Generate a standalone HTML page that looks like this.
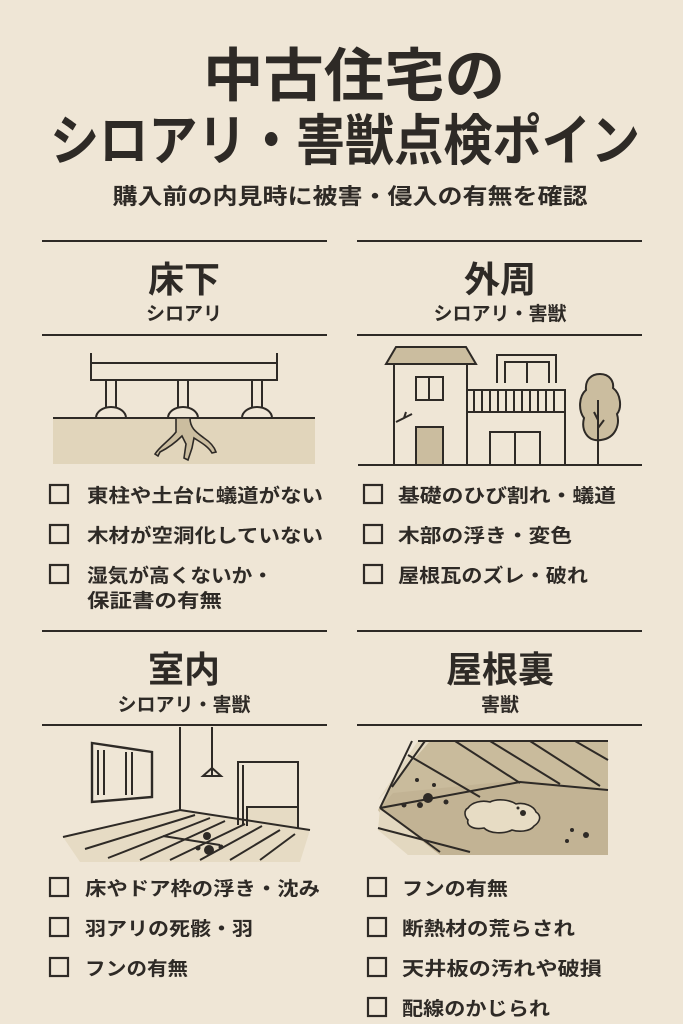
<!DOCTYPE html>
<html><head><meta charset="utf-8"><style>
html,body{margin:0;padding:0;background:#efe6d6;}
svg{display:block}
text{font-family:"Liberation Sans","Noto Sans CJK JP",sans-serif;fill:#2e2a26;}
.b{font-weight:bold}
.cb{fill:none;stroke:#2e2a26;stroke-width:2.2}
.ln{stroke:#2e2a26;stroke-width:2;fill:none}
.it{font-size:19px;font-weight:bold}
</style></head><body>
<svg width="683" height="1024" viewBox="0 0 683 1024">
<rect width="683" height="1024" fill="#efe6d6"/>
<text class="b" x="354" y="96" font-size="58" text-anchor="middle" textLength="302" lengthAdjust="spacingAndGlyphs">中古住宅の</text>
<text class="b" x="345" y="160" font-size="55" text-anchor="middle" textLength="590" lengthAdjust="spacingAndGlyphs">シロアリ・害獣点検ポイン</text>
<text class="b" x="350" y="204" font-size="22" text-anchor="middle" textLength="475" lengthAdjust="spacingAndGlyphs">購入前の内見時に被害・侵入の有無を確認</text>

<g class="ln">
<line x1="42" y1="241" x2="327" y2="241"/><line x1="357" y1="241" x2="642" y2="241"/>
<line x1="42" y1="335" x2="327" y2="335"/><line x1="357" y1="335" x2="642" y2="335"/>
<line x1="42" y1="631" x2="327" y2="631"/><line x1="357" y1="631" x2="642" y2="631"/>
<line x1="42" y1="725" x2="327" y2="725"/><line x1="357" y1="725" x2="642" y2="725"/>
</g>
<text class="b" x="184" y="292" font-size="36" text-anchor="middle">床下</text>
<text class="b" x="184" y="320" font-size="19" text-anchor="middle">シロアリ</text>
<text class="b" x="500" y="292" font-size="36" text-anchor="middle">外周</text>
<text class="b" x="500" y="320" font-size="19" text-anchor="middle">シロアリ・害獣</text>
<text class="b" x="184" y="682" font-size="36" text-anchor="middle">室内</text>
<text class="b" x="184" y="711" font-size="19" text-anchor="middle">シロアリ・害獣</text>
<text class="b" x="500" y="682" font-size="36" text-anchor="middle">屋根裏</text>
<text class="b" x="500" y="711" font-size="19" text-anchor="middle">害獣</text>

<!-- underfloor -->
<rect x="53" y="418" width="262" height="46" fill="#e1d5bb"/>
<g class="ln">
<line x1="53" y1="418" x2="315" y2="418"/>
<polyline points="91,353 91,380 277,380 277,353"/>
<line x1="91" y1="363" x2="277" y2="363"/>
<path d="M106 380V408M116 380V408M178 380V408M188 380V408M252 380V408M262 380V408"/>
<path d="M96 418a15 11 0 0 1 30 0M168 418a15 11 0 0 1 30 0M242 418a15 11 0 0 1 30 0"/>
<path d="M176 418L190 418C190 428 196 432 204 438C210 442 214 446 216 452L212 453C208 446 200 442 194 438L192 448L188 460L184 458L186 444L182 436C176 442 168 448 160 452L158 456L155 454C160 446 170 440 176 432Z" fill="#cbbd9f" stroke-width="1.6"/>
</g>
<!-- house -->
<g class="ln">
<line x1="358" y1="465" x2="642" y2="465"/>
<path d="M386 364L396 347H466L476 364Z" fill="#cbbd9f"/>
<path d="M394 364V465M467 364V465M467 412H565V465M467 390H565V412M497 383V355H556V383"/>
<path d="M474 390V412M482 390V412M490 390V412M498 390V412M506 390V412M514 390V412M522 390V412M530 390V412M538 390V412M546 390V412M554 390V412"/>
<rect x="416" y="377" width="27" height="23"/><line x1="429" y1="377" x2="429" y2="400"/>
<rect x="416" y="427" width="27" height="38" fill="#cbbd9f"/>
<path d="M505 383V362H549V383M527 362V383"/>
<rect x="490" y="432" width="50" height="33"/><line x1="515" y1="432" x2="515" y2="465"/>
<path d="M396 422l8-4 2-6M404 418l8-4"/>
<path d="M600 374c10 0 14 8 13 14 8 6 9 20 4 26 3 10-1 24-16 26-14 2-20-10-17-22-6-8-5-22 2-28-1-10 5-16 14-16z" fill="#cbbd9f"/>
<path d="M598 400V465M598 420l-4-8M598 428l6-8"/>
</g>
<!-- room -->
<path d="M63 837L180 810L310 830L300 862H80Z" fill="#e6dbc4"/>
<path d="M247 826V807H297V828Z" fill="#e6dbc4"/>
<g class="ln">
<path d="M180 727V810M212 727V775"/>
<path d="M203 776L212 768L221 776Z"/>
<path d="M92 743L152 752V797L92 802Z" stroke-width="2.4"/>
<path d="M98 750V795M104 750V795M126 752V795M132 752V795"/>
<path d="M238 825V762H298V828M243 825V765" />
<path d="M247 826V807H297"/>
<path d="M180 810L310 830"/>
<path d="M63 837L180 810M85 849L195 815M108 858L210 818M140 860L225 821M170 860L245 824M200 860L262 826M230 860L280 830M260 860L295 834M163 836L220 845"/>
<g fill="#2e2a26" stroke="none"><circle cx="207" cy="836" r="4"/><circle cx="209" cy="850" r="5"/><circle cx="198" cy="848" r="2.5"/><circle cx="221" cy="847" r="2.5"/></g>
</g>
<!-- attic -->
<path d="M418 741H608V855H408L378 810L390 787Z" fill="#c9bb9c"/>
<path d="M418 741H430L390 787L378 800Z" fill="#e3d8c0"/>
<path d="M393 793L520 780L608 790V855H440L380 808Z" fill="#c2b394"/>
<path d="M380 808L440 855H408L378 830Z" fill="#e3d8c0"/>
<g class="ln">
<path d="M412 741L380 808M425 741L392 787M418 741H608M408 755L480 797M455 741L520 783M490 741L560 784M530 741L600 786M575 741L608 760M380 808L520 782L608 790M380 808L440 852M378 828L470 852"/>
<path d="M468 808c4-6 14-8 22-6 8-4 20-2 26 2 8-2 18 2 20 8 6 4 4 10-2 14-4 6-16 6-22 4-8 4-22 4-28-2-10 2-18-2-16-8-4-4-4-10 0-12z" fill="#e7dcc4" stroke-width="1.6"/>
</g>
<g fill="#2e2a26"><circle cx="428" cy="798" r="5"/><circle cx="420" cy="805" r="3"/><circle cx="404" cy="805" r="2.5"/><circle cx="446" cy="802" r="2.5"/><circle cx="417" cy="780" r="2"/><circle cx="434" cy="785" r="2"/><circle cx="523" cy="813" r="3"/><circle cx="518" cy="808" r="1.5"/><circle cx="586" cy="835" r="3"/><circle cx="572" cy="830" r="2"/><circle cx="567" cy="841" r="2"/></g>

<!-- checklists -->
<g class="cb">
<rect x="50" y="485" width="18" height="18"/><rect x="50" y="525" width="18" height="18"/><rect x="50" y="565" width="18" height="18"/>
<rect x="364" y="485" width="18" height="18"/><rect x="364" y="525" width="18" height="18"/><rect x="364" y="565" width="18" height="18"/>
<rect x="50" y="878" width="18" height="18"/><rect x="50" y="918" width="18" height="18"/><rect x="50" y="958" width="18" height="18"/>
<rect x="368" y="878" width="18" height="18"/><rect x="368" y="918" width="18" height="18"/><rect x="368" y="958" width="18" height="18"/><rect x="368" y="998" width="18" height="18"/>
</g>
<text class="it" x="87" y="502" textLength="236" lengthAdjust="spacingAndGlyphs">東柱や土台に蟻道がない</text>
<text class="it" x="87" y="542" textLength="236" lengthAdjust="spacingAndGlyphs">木材が空洞化していない</text>
<text class="it" x="87" y="582" textLength="186" lengthAdjust="spacingAndGlyphs">湿気が高くないか・</text>
<text class="it" x="87" y="607" textLength="135" lengthAdjust="spacingAndGlyphs">保証書の有無</text>
<text class="it" x="398" y="502" textLength="218" lengthAdjust="spacingAndGlyphs">基礎のひび割れ・蟻道</text>
<text class="it" x="398" y="542" textLength="174" lengthAdjust="spacingAndGlyphs">木部の浮き・変色</text>
<text class="it" x="398" y="582" textLength="190" lengthAdjust="spacingAndGlyphs">屋根瓦のズレ・破れ</text>
<text class="it" x="85" y="895" textLength="235" lengthAdjust="spacingAndGlyphs">床やドア枠の浮き・沈み</text>
<text class="it" x="85" y="935" textLength="168" lengthAdjust="spacingAndGlyphs">羽アリの死骸・羽</text>
<text class="it" x="85" y="975" textLength="103" lengthAdjust="spacingAndGlyphs">フンの有無</text>
<text class="it" x="402" y="895" textLength="106" lengthAdjust="spacingAndGlyphs">フンの有無</text>
<text class="it" x="402" y="935" textLength="173" lengthAdjust="spacingAndGlyphs">断熱材の荒らされ</text>
<text class="it" x="402" y="975" textLength="200" lengthAdjust="spacingAndGlyphs">天井板の汚れや破損</text>
<text class="it" x="402" y="1015" textLength="148" lengthAdjust="spacingAndGlyphs">配線のかじられ</text>
</svg>
</body></html>
